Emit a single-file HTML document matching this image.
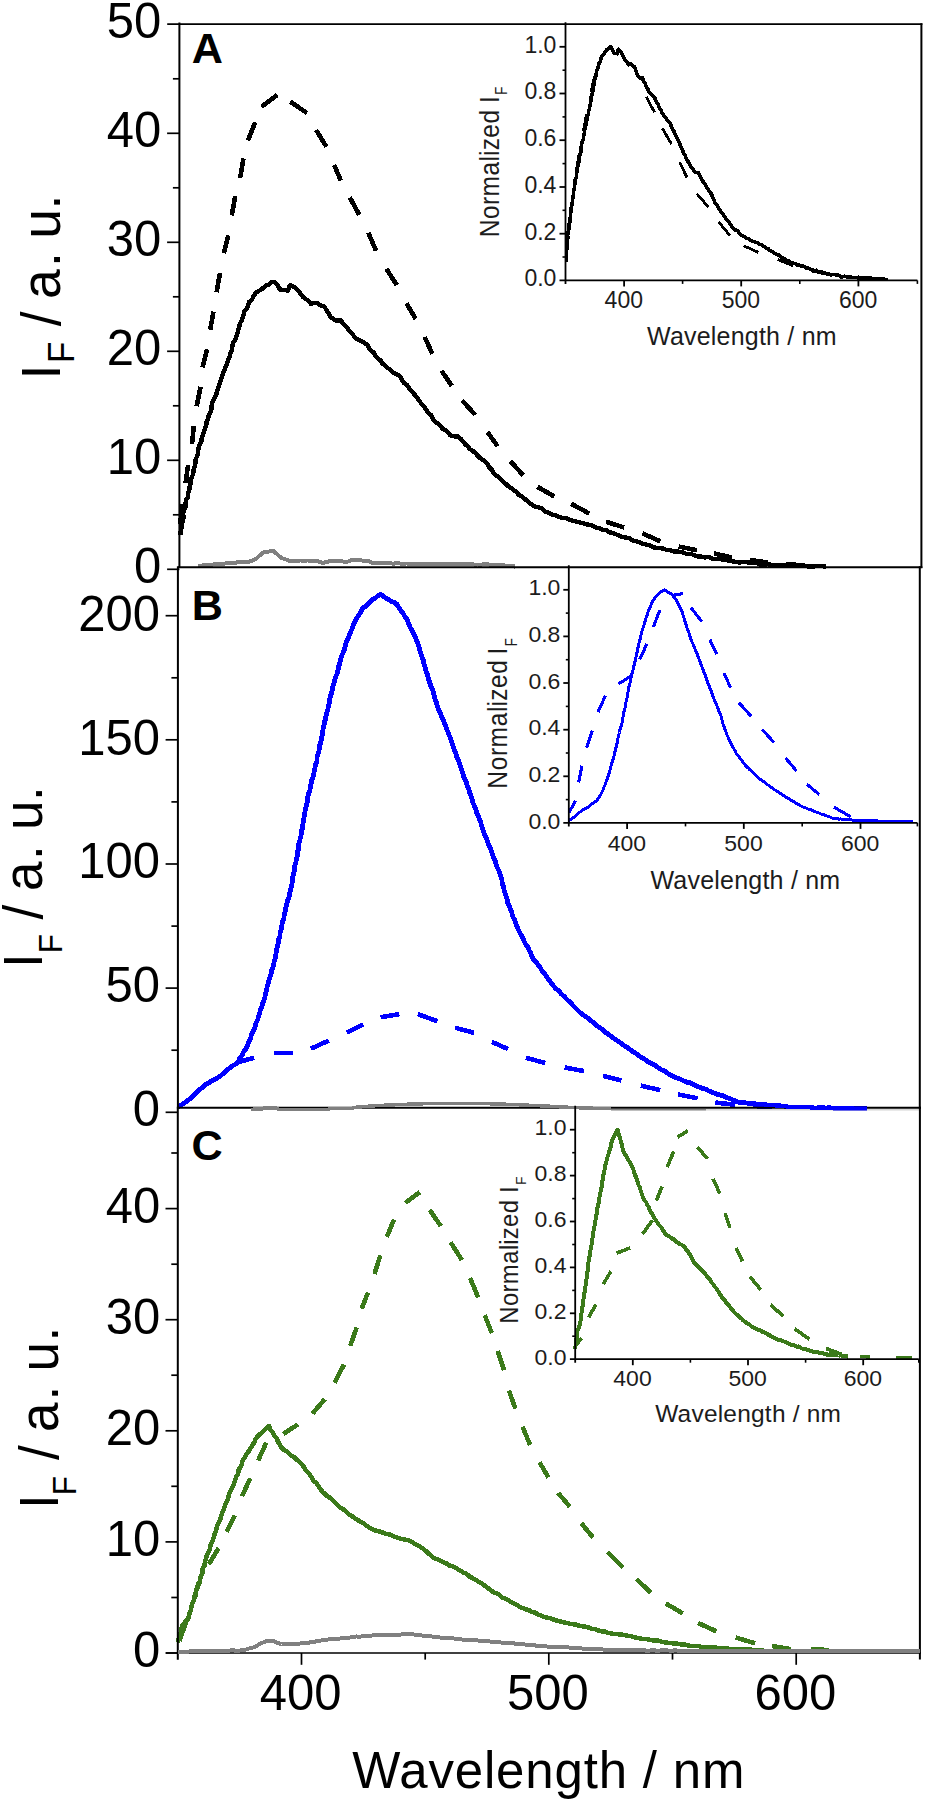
<!DOCTYPE html>
<html lang="en"><head><meta charset="utf-8"><title>Fluorescence spectra</title>
<style>html,body{margin:0;padding:0;background:#fff}svg{display:block}</style></head>
<body>
<svg width="926" height="1804" viewBox="0 0 926 1804">
<rect width="926" height="1804" fill="#fff"/>
<polyline points="198.0,566.2 201.6,565.6 205.3,565.1 208.9,564.5 212.5,564.6 216.0,563.8 219.5,563.9 223.1,563.9 226.6,563.2 230.1,563.2 233.7,563.0 237.2,562.4 240.7,562.4 244.3,562.4 247.8,562.0 251.7,560.8 255.5,559.3 258.4,556.7 261.4,554.0 264.6,551.6 267.6,551.7 270.7,551.3 273.7,551.2 276.3,553.4 278.8,555.9 281.6,558.0 285.4,559.3 289.2,560.7 292.9,560.8 296.6,560.7 300.3,560.5 304.1,560.6 307.8,560.5 311.5,560.6 315.2,560.8 319.1,561.6 322.9,562.9 326.9,562.0 330.7,560.6 334.6,561.0 338.5,561.3 342.4,561.4 346.3,562.0 348.9,561.3 351.4,560.1 355.3,560.4 359.2,560.2 363.1,560.6 367.0,560.8 369.7,561.6 372.3,562.7 375.6,562.6 379.1,563.0 382.5,562.8 386.0,562.9 389.4,563.3 392.8,563.6 396.3,563.4 399.7,563.5 403.1,563.7 406.6,563.5 410.0,563.8 413.5,563.6 417.1,563.9 420.6,564.2 424.2,563.7 427.7,564.0 431.2,564.1 434.8,563.8 438.3,563.9 441.9,564.4 445.4,564.4 448.9,563.9 452.5,564.3 456.0,564.5 459.6,564.1 463.1,564.3 466.6,564.0 470.2,564.3 473.7,564.5 477.3,564.5 480.8,564.6 484.3,564.2 487.9,564.4 491.4,564.8 495.0,564.6 498.5,564.6 501.8,564.9 505.1,565.6 508.4,565.8 511.7,565.8 515.0,566.6" fill="none" stroke="#808080" stroke-width="4" stroke-linejoin="round" shape-rendering="crispEdges"/>
<polyline points="180.4,534.8 180.6,531.3 181.6,527.9 181.9,524.4 182.9,521.0 183.5,517.6 183.2,514.0 183.7,510.5 185.5,507.2 185.4,503.7 186.0,500.2 187.9,497.1 187.9,493.5 189.3,490.2 189.5,486.7 190.6,483.4 190.6,479.8 192.1,476.6 193.3,473.3 193.6,469.8 194.7,466.5 195.4,463.1 195.6,459.5 197.2,456.1 198.0,452.5 198.5,448.8 199.1,445.2 201.3,441.9 201.7,438.2 203.0,434.7 204.0,431.2 205.0,428.0 206.4,424.9 206.7,421.5 208.3,418.4 208.8,415.1 210.5,412.1 211.5,408.9 211.7,405.4 212.7,401.8 214.0,398.4 216.3,395.3 216.8,391.6 218.3,388.2 219.1,384.6 220.6,381.2 221.7,377.7 222.7,374.2 224.2,370.8 225.4,367.4 227.0,364.1 227.8,360.5 229.3,357.2 230.4,353.7 231.7,350.3 232.3,346.6 232.9,343.2 235.0,340.3 236.3,337.1 237.3,333.9 238.0,330.4 239.3,327.3 239.8,323.8 241.5,320.8 242.7,317.6 243.6,314.4 244.6,311.1 247.0,308.5 248.1,305.3 249.2,301.9 252.0,299.6 253.5,296.4 255.3,293.4 257.9,291.3 260.9,289.8 263.5,287.7 265.8,285.4 269.0,284.6 271.0,282.6 273.8,281.9 277.1,284.4 278.8,287.7 281.2,290.3 284.7,290.1 287.9,290.5 288.9,287.4 290.2,284.9 294.0,287.1 296.7,288.9 298.7,291.4 300.6,293.9 302.5,296.5 305.0,298.5 308.5,300.8 311.1,304.1 313.8,303.0 316.6,302.9 320.1,305.1 324.2,306.4 326.4,309.9 328.5,313.4 330.6,316.9 333.2,318.9 335.9,320.7 341.1,320.3 342.7,323.3 345.4,325.6 347.6,328.3 349.4,331.3 352.2,333.5 354.1,336.4 357.1,339.2 360.9,340.7 364.4,342.8 367.2,344.9 369.0,347.9 371.1,350.6 374.0,352.7 375.6,355.9 377.8,358.5 380.7,360.5 382.4,363.6 385.1,365.5 387.5,367.9 390.4,369.6 392.7,372.1 395.4,374.0 398.2,375.0 400.2,376.9 402.0,380.0 403.8,382.8 406.8,384.8 408.7,387.6 410.7,390.3 413.1,392.7 415.3,395.5 417.5,398.2 419.6,401.1 421.5,404.1 424.0,406.6 426.0,409.5 427.9,412.8 431.0,415.0 432.6,418.4 434.9,421.4 437.8,423.5 440.4,425.7 442.4,428.7 445.6,430.5 448.2,432.8 450.5,435.5 454.4,436.4 458.3,436.5 460.9,439.0 463.2,441.4 465.1,444.3 467.9,446.3 469.8,449.1 472.8,450.9 475.4,453.1 477.7,455.7 480.0,458.1 483.0,459.9 485.5,462.2 487.7,464.6 489.4,467.6 492.0,469.8 493.4,472.9 495.7,475.4 498.8,477.1 501.3,479.4 503.4,482.2 506.2,484.2 508.6,486.6 511.7,488.3 514.3,490.5 516.9,492.5 519.0,495.1 522.1,496.6 524.6,498.7 527.1,500.8 529.7,502.9 532.2,504.9 535.3,507.0 539.1,507.5 542.5,508.7 545.2,511.5 548.6,512.9 551.9,514.5 555.5,515.3 558.8,517.0 562.2,517.9 566.0,517.9 569.2,519.7 572.6,520.8 576.2,521.6 579.7,522.4 583.2,523.1 586.6,524.3 589.9,525.0 593.2,525.8 596.1,527.6 599.4,528.1 602.3,529.9 605.9,529.8 608.7,532.1 611.9,532.8 615.1,533.8 618.4,535.4 621.9,536.7 625.5,537.5 629.3,538.0 632.3,540.3 636.0,541.1 639.4,542.1 642.7,543.7 646.2,544.5 649.7,545.4 653.0,547.3 656.6,547.8 660.1,548.1 663.6,548.6 666.9,550.2 670.5,550.3 673.9,551.4 677.4,551.5 680.9,551.9 684.3,553.1 687.6,554.2 691.3,553.9 694.5,555.5 697.9,556.4 701.5,556.7 704.9,557.5 708.6,556.9 711.9,558.4 715.3,559.3 718.9,558.6 722.4,559.5 725.8,560.0 729.2,561.0 732.7,561.4 736.2,561.8 739.6,562.6 743.1,561.8 746.6,562.2 750.0,562.6 753.5,562.9 757.0,563.2 760.3,564.9 763.8,564.8 767.5,564.1 771.2,564.9 774.9,564.8 778.6,565.0 782.3,565.2 786.0,565.8 789.7,565.9 793.3,565.7 797.0,565.5 800.6,565.8 804.2,565.6 807.8,566.4 811.5,566.7 815.1,566.3 818.8,566.0 822.4,566.2 826.0,566.7" fill="none" stroke="#000" stroke-width="4.4" stroke-linejoin="round" shape-rendering="crispEdges"/>
<path d="M180.4,524.4L181.7,503.7 M185.6,483.0L188.1,464.8 M192.0,444.0L193.8,425.9 M196.7,406.3L200.6,386.8 M202.4,367.4L207.1,349.2 M210.2,329.8L213.5,311.6 M216.7,292.2L220.0,272.8 M223.7,253.3L228.3,235.2 M231.8,215.5L235.2,196.1 M240.1,177.9L243.5,158.5 M247.9,140.4L255.2,122.2 M261.6,106.7L277.2,95.0 M290.2,101.5L307.0,113.1 M316.1,130.0L326.4,146.8 M334.2,165.0L340.7,180.5 M349.8,197.4L359.4,215.0 M368.3,232.6L376.1,250.7 M386.4,268.9L396.8,285.0 M406.5,303.3L415.6,318.9 M424.6,337.0L432.4,353.9 M441.5,370.7L451.8,385.8 M462.2,400.5L475.2,414.8 M487.5,432.0L497.6,446.3 M510.2,460.9L523.1,475.2 M537.4,486.8L554.2,496.4 M571.1,503.7L589.2,513.5 M606.1,521.8L624.2,527.5 M642.4,533.5L660.5,541.3 M678.7,546.5L696.8,550.3 M714.0,553.5L732.0,557.5 M750.0,560.0L768.0,562.5 M786.0,564.0L804.0,565.5" fill="none" stroke="#000" stroke-width="4.6" shape-rendering="crispEdges"/>
<path d="M239.7,1061.7L254.2,1057.8 M273.7,1053.0L293.1,1053.0 M310.9,1048.7L328.7,1040.6 M346.6,1032.5L363.4,1024.4 M380.6,1017.3L399.4,1014.1 M417.8,1014.1L437.3,1021.2 M455.1,1027.7L474.0,1032.8 M491.8,1041.9L508.0,1049.0 M525.9,1057.8L545.3,1063.0 M564.7,1067.5L584.2,1071.1 M603.0,1075.9L621.4,1080.5 M640.9,1085.6L660.3,1090.2 M678.1,1094.4L697.6,1098.3 M715.4,1102.5L734.8,1104.7 M753.0,1106.0L772.0,1107.0" fill="none" stroke="#0000ff" stroke-width="4.6" shape-rendering="crispEdges"/>
<polyline points="178.1,1107.1 181.0,1105.2 183.9,1103.2 186.7,1101.2 189.5,1099.1 192.2,1096.7 195.0,1094.4 197.2,1091.4 200.2,1089.2 203.1,1087.1 205.6,1084.4 209.0,1082.9 212.0,1080.6 215.3,1079.1 218.6,1077.2 221.4,1075.1 224.2,1072.9 226.7,1070.3 229.5,1068.2 232.3,1066.0 235.4,1064.2 238.1,1061.8 239.7,1058.3 242.1,1055.3 243.6,1051.8 245.9,1048.8 247.7,1045.4 248.6,1042.1 250.5,1039.1 251.2,1035.7 252.4,1032.5 254.2,1029.4 255.4,1026.2 256.1,1022.8 257.7,1019.7 258.5,1016.4 259.7,1013.2 260.3,1009.8 261.9,1006.8 262.7,1003.5 263.9,1000.3 264.9,997.0 265.5,993.7 266.4,990.4 267.1,987.1 268.0,983.9 268.9,980.6 269.9,977.4 271.1,974.3 271.5,970.9 272.9,967.8 273.6,964.5 274.3,960.9 275.4,957.5 275.9,953.9 276.5,950.3 277.4,946.8 278.3,943.3 278.5,939.7 280.0,936.3 280.0,932.6 281.3,929.2 281.9,925.6 282.3,921.9 283.8,918.5 284.3,914.9 285.3,911.4 285.8,907.7 286.7,904.2 287.6,900.6 289.1,897.2 289.4,893.5 290.6,890.0 291.5,886.6 292.1,883.2 292.3,879.7 293.0,876.3 293.7,872.9 294.6,869.5 294.7,865.9 295.8,862.6 296.5,859.2 297.2,855.8 297.2,852.2 298.6,848.9 298.5,845.4 299.4,842.0 300.2,838.6 301.1,835.1 301.3,831.6 302.5,828.2 302.8,824.7 303.3,821.2 304.0,817.7 304.5,814.2 305.1,810.8 305.8,807.3 306.9,803.9 307.8,800.5 307.8,796.9 308.5,793.5 309.9,790.4 310.3,787.0 311.0,783.8 311.7,780.5 312.8,777.4 313.8,774.2 314.3,770.9 315.0,767.6 315.7,764.4 317.0,760.9 317.0,757.3 318.1,753.8 319.1,750.3 319.3,746.7 320.5,743.2 321.4,739.7 321.9,736.1 322.8,732.6 323.0,729.0 324.0,725.5 324.4,722.2 325.7,719.1 326.0,715.7 326.8,712.5 327.9,709.4 328.5,706.1 329.3,702.9 329.7,699.5 330.4,696.3 331.5,693.1 332.2,689.8 332.9,686.6 333.9,683.3 334.6,680.1 335.7,676.9 337.1,673.8 338.0,670.5 338.5,667.2 339.5,664.0 340.4,660.7 341.2,657.4 342.4,654.2 343.8,651.1 344.9,647.9 345.5,644.5 346.7,641.3 348.2,638.1 349.4,634.9 350.8,631.6 352.2,628.4 353.2,625.0 354.8,621.8 356.2,619.0 357.9,616.4 359.7,613.8 361.3,611.0 362.7,608.2 365.5,606.4 367.7,604.1 370.1,601.9 372.4,599.7 375.2,598.0 377.8,596.0 380.6,594.4 383.3,596.1 385.9,598.2 388.7,599.8 391.3,601.4 394.2,602.5 396.8,604.1 398.6,607.0 400.5,610.0 402.8,612.7 404.4,615.8 406.5,618.7 407.9,621.7 409.1,624.8 410.5,627.9 412.2,630.8 413.6,633.8 415.3,636.7 416.2,640.0 417.7,643.0 418.9,646.3 419.8,649.8 420.8,653.3 421.8,656.7 423.2,660.0 423.8,663.6 424.9,667.0 425.9,670.4 427.1,673.6 428.0,676.9 428.9,680.2 430.0,683.4 431.0,686.7 432.5,689.8 433.5,693.0 434.3,696.3 435.1,699.6 436.5,702.8 437.2,706.1 438.5,709.4 440.2,712.4 441.2,715.8 442.7,719.0 444.1,722.2 445.4,725.4 446.5,728.7 447.9,731.9 449.2,735.2 450.5,738.4 451.5,741.6 452.6,744.8 453.6,748.0 454.7,751.1 456.1,754.2 456.8,757.5 458.6,760.4 459.4,763.7 460.6,766.8 461.6,770.0 462.8,773.1 463.6,776.5 465.1,779.7 466.6,782.8 467.3,786.2 468.9,789.3 469.7,792.7 471.0,795.9 472.0,799.2 472.9,802.5 474.2,805.7 475.6,808.9 476.5,812.2 477.9,815.4 479.2,818.6 480.6,821.7 481.4,825.1 482.6,828.3 483.5,831.7 484.7,834.9 486.2,838.1 487.5,841.2 488.5,844.6 490.2,847.6 491.4,850.9 492.3,854.3 493.5,857.5 495.1,860.6 496.0,864.0 497.1,867.3 498.7,870.4 499.9,873.7 501.0,876.9 501.9,880.1 502.2,883.5 503.6,886.6 504.0,890.0 505.0,893.2 506.1,896.4 507.3,899.5 507.8,902.9 509.2,906.0 510.5,909.3 511.8,912.5 512.5,915.9 514.1,919.0 515.5,922.2 516.6,925.5 517.9,928.6 519.3,931.8 521.1,934.9 522.8,937.9 524.1,941.2 525.7,944.3 527.9,947.1 529.1,950.4 530.9,953.4 532.1,956.8 533.9,959.8 536.3,962.5 538.5,965.4 540.7,968.3 542.3,971.6 544.9,974.2 546.9,977.2 549.1,980.1 551.2,983.1 553.4,985.9 555.9,988.6 558.8,990.9 561.0,993.8 563.9,996.1 566.3,998.9 569.0,1001.3 571.6,1003.9 574.1,1006.6 576.7,1009.2 579.3,1011.8 581.8,1014.0 584.6,1016.0 587.5,1017.7 590.0,1019.9 592.6,1022.0 595.0,1024.4 597.7,1026.4 600.5,1028.3 603.4,1030.0 605.7,1032.5 608.5,1034.4 611.4,1036.5 614.3,1038.7 617.3,1040.7 620.3,1042.6 623.0,1045.0 626.2,1046.7 629.2,1048.8 631.9,1051.1 635.1,1052.8 638.0,1054.9 640.8,1057.2 644.0,1058.6 646.7,1060.9 649.7,1062.6 652.7,1064.1 655.7,1065.8 658.5,1067.9 661.3,1069.8 664.6,1071.0 667.4,1073.0 670.3,1074.9 673.3,1076.6 676.6,1077.8 679.9,1078.9 683.0,1080.5 686.2,1082.0 689.6,1082.7 692.8,1084.1 695.9,1085.9 699.1,1087.1 702.4,1088.3 705.8,1089.3 709.1,1091.0 712.4,1092.5 715.8,1093.8 719.4,1094.9 723.0,1095.7 726.2,1097.6 729.8,1098.4 733.1,1100.0 736.4,1101.5 740.0,1102.6 743.5,1102.5 746.9,1103.0 750.3,1103.8 753.8,1103.5 757.2,1104.2 760.6,1104.3 764.1,1104.4 767.5,1105.1 771.0,1104.9 774.4,1105.3 777.8,1105.8 781.3,1105.9 784.7,1106.2 788.1,1106.9 791.5,1107.4 795.0,1107.7 798.4,1107.3 801.9,1107.5 805.3,1107.5 808.7,1107.8 812.1,1107.7 815.6,1108.1 819.0,1107.7 822.4,1107.5 825.9,1108.1 829.3,1107.7 832.7,1108.1 836.1,1108.1 839.6,1108.4 843.0,1108.2 846.4,1108.3 849.9,1108.1 853.3,1108.4 856.7,1108.2 860.1,1108.6 863.6,1108.5 867.0,1108.4" fill="none" stroke="#0000ff" stroke-width="4.8" stroke-linejoin="round" shape-rendering="crispEdges"/>
<path d="M179.5,1641.0L186.0,1622.0 M193.5,1600.0L198.5,1583.0 M208.9,1564.2L218.6,1548.0 M226.7,1531.8L234.8,1515.6 M241.9,1496.2L250.3,1478.4 M258.1,1460.6L266.2,1442.8 M283.4,1434.0L298.0,1424.3 M312.5,1413.6L324.9,1399.0 M334.6,1382.8L344.0,1364.5 M350.2,1346.0L356.7,1327.5 M361.6,1308.7L368.0,1292.5 M374.5,1274.1L380.3,1255.3 M386.8,1236.8L394.0,1219.7 M405.3,1202.8L419.9,1192.1 M429.6,1209.9L440.9,1226.1 M450.6,1242.3L462.0,1260.2 M470.1,1278.0L478.2,1297.4 M484.7,1315.2L491.8,1333.0 M497.6,1350.9L504.1,1370.3 M508.9,1390.5L515.4,1408.7 M522.6,1426.8L530.1,1445.0 M539.5,1462.3L548.5,1477.4 M558.1,1492.9L569.8,1506.7 M581.4,1523.3L593.1,1537.6 M607.4,1551.8L622.9,1567.4 M636.6,1579.2L651.0,1592.8 M665.6,1603.4L682.7,1613.3 M698.0,1622.9L716.5,1631.4 M735.6,1637.5L755.0,1643.3 M772.1,1646.1L790.9,1649.1 M811.3,1648.8L828.4,1650.2" fill="none" stroke="#3b7a1a" stroke-width="4.6" shape-rendering="crispEdges"/>
<polyline points="177.8,1642.6 178.7,1638.9 179.5,1635.2 181.1,1631.7 181.5,1627.9 183.0,1624.4 185.4,1621.7 187.9,1619.0 189.1,1616.0 189.6,1612.6 191.0,1609.5 191.5,1606.1 192.5,1602.9 193.9,1599.8 195.3,1596.6 195.7,1593.2 196.6,1589.8 198.1,1586.4 199.4,1583.1 200.0,1579.5 200.8,1576.0 202.5,1572.7 202.5,1569.0 204.4,1565.8 204.9,1562.2 205.8,1558.7 206.9,1555.3 208.3,1552.0 210.0,1548.8 210.5,1545.2 212.1,1542.0 213.3,1538.7 214.2,1535.2 215.6,1531.9 216.5,1528.4 217.4,1525.2 218.7,1522.1 220.4,1519.1 221.3,1515.9 222.3,1512.7 223.7,1509.6 224.8,1506.4 225.8,1503.2 227.4,1500.3 228.4,1497.0 229.4,1493.6 231.0,1490.4 232.3,1487.1 234.0,1483.9 235.2,1480.5 236.0,1477.1 238.1,1474.0 238.5,1470.4 240.2,1467.2 241.8,1464.0 242.7,1460.5 244.7,1457.6 246.1,1454.3 248.5,1451.6 250.4,1448.6 252.1,1445.5 254.2,1442.6 255.5,1439.2 257.6,1436.4 260.4,1433.8 263.2,1431.2 265.9,1428.5 268.9,1426.0 270.2,1429.3 272.5,1432.1 274.2,1435.3 276.6,1438.1 277.9,1441.5 279.8,1444.6 281.6,1447.7 284.1,1450.0 287.0,1451.6 289.5,1453.8 291.9,1456.1 294.8,1457.6 297.1,1460.1 299.7,1462.1 302.0,1464.6 304.1,1467.2 305.6,1470.3 308.2,1472.5 310.1,1475.3 312.1,1478.0 313.7,1481.0 316.5,1483.1 318.2,1486.0 320.2,1488.7 322.1,1491.4 324.7,1493.8 327.2,1496.1 330.2,1497.9 332.7,1500.3 335.4,1502.5 337.6,1505.2 340.1,1507.6 343.3,1509.2 345.8,1511.5 348.3,1513.9 351.2,1515.6 353.9,1517.6 356.7,1519.6 359.7,1521.1 362.7,1522.7 365.3,1524.9 368.1,1526.7 370.9,1528.6 374.0,1530.1 377.3,1530.9 380.6,1531.8 383.8,1533.0 387.0,1534.1 390.4,1534.6 393.4,1536.3 396.7,1537.4 399.9,1538.4 403.1,1539.3 406.5,1539.8 409.7,1540.8 412.6,1542.2 415.1,1544.3 418.1,1545.5 420.8,1547.1 423.4,1549.1 426.1,1551.2 428.6,1553.6 431.4,1555.7 433.9,1558.1 436.9,1559.2 439.9,1560.5 442.8,1562.1 446.0,1563.0 448.6,1565.2 451.8,1566.2 455.0,1567.4 457.9,1569.2 460.8,1571.0 463.8,1572.7 466.9,1574.1 469.4,1576.5 472.5,1578.0 475.6,1579.8 478.5,1581.8 481.7,1583.5 484.7,1585.6 487.5,1587.8 490.5,1589.8 493.2,1592.1 496.4,1593.3 499.5,1594.9 501.9,1597.4 505.1,1598.7 508.3,1600.0 511.0,1602.1 514.1,1603.5 517.0,1605.1 519.8,1606.9 522.9,1608.2 526.0,1609.4 529.3,1610.4 532.2,1611.9 535.4,1612.8 538.3,1614.6 541.5,1615.6 544.5,1617.0 547.7,1617.8 551.2,1618.5 554.6,1620.0 558.0,1621.0 561.5,1621.7 565.0,1622.6 568.5,1623.3 571.8,1624.2 575.2,1624.4 578.5,1625.6 581.9,1626.2 585.3,1626.7 588.6,1627.5 591.8,1628.7 595.1,1629.2 598.2,1630.4 601.4,1631.4 604.8,1631.5 607.9,1632.7 611.1,1633.5 614.4,1634.1 617.7,1634.2 621.5,1634.6 625.2,1635.3 628.9,1635.9 632.6,1636.6 636.3,1637.7 640.0,1638.4 643.4,1639.1 647.0,1639.2 650.4,1639.9 653.9,1640.6 657.5,1640.4 660.9,1641.5 664.3,1642.3 667.8,1642.7 671.3,1643.2 674.8,1643.4 678.3,1643.8 681.7,1644.7 685.1,1644.6 688.5,1645.5 691.9,1646.0 695.4,1645.8 698.8,1646.2 702.1,1647.1 705.6,1647.3 709.0,1647.1 712.4,1647.6 715.8,1647.6 719.2,1648.6 722.6,1648.6 726.1,1648.1 729.4,1649.0 732.8,1649.3 736.3,1649.2 739.7,1649.0 743.1,1649.4 746.5,1649.3 749.9,1649.1 753.3,1650.3 756.8,1650.1 760.2,1650.1 763.6,1650.4" fill="none" stroke="#3b7a1a" stroke-width="4.5" stroke-linejoin="round" shape-rendering="crispEdges"/>
<path d="M566.3,262.0L567.6,243.0 M570.5,214.0L572.5,197.0 M576.0,172.0L579.0,155.0 M583.5,131.0L586.5,114.0 M591.0,92.0L594.5,76.0 M646.3,96.9L654.6,112.4 M662.4,128.5L671.5,144.0 M679.8,162.2L687.0,177.7 M696.9,193.8L708.3,207.0 M718.6,221.8L729.8,235.5 M743.5,245.7L758.3,252.4 M777.7,259.4L793.3,265.9 M812.0,271.0L828.0,274.5 M846.0,277.0L862.0,278.6" fill="none" stroke="#000" stroke-width="2.8" shape-rendering="crispEdges"/>
<polyline points="566.4,252.4 566.5,249.5 567.0,246.7 567.1,243.9 567.5,241.1 567.8,238.3 567.7,235.4 567.9,232.6 568.8,229.9 568.8,227.0 569.0,224.2 569.9,221.7 569.9,218.8 570.6,216.1 570.7,213.3 571.2,210.6 571.2,207.7 571.9,205.0 572.5,202.4 572.6,199.5 573.1,196.8 573.5,194.0 573.6,191.2 574.4,188.4 574.7,185.5 575.0,182.5 575.2,179.5 576.3,176.9 576.5,173.8 577.1,171.0 577.5,168.1 578.0,165.5 578.7,163.0 578.8,160.2 579.6,157.8 579.8,155.0 580.7,152.6 581.1,150.0 581.2,147.2 581.7,144.3 582.3,141.5 583.4,139.0 583.6,135.9 584.3,133.2 584.7,130.2 585.4,127.5 585.9,124.6 586.4,121.8 587.1,119.1 587.7,116.2 588.4,113.6 588.8,110.7 589.6,108.0 590.1,105.1 590.7,102.4 591.0,99.4 591.2,96.6 592.2,94.2 592.8,91.7 593.3,89.0 593.6,86.2 594.3,83.7 594.5,80.8 595.3,78.4 595.9,75.8 596.3,73.2 596.8,70.5 597.9,68.4 598.5,65.8 599.0,63.1 600.3,61.2 601.0,58.5 601.8,56.1 603.1,54.4 604.5,53.2 605.7,51.5 606.8,49.6 608.4,48.9 609.3,47.3 610.6,46.8 612.2,48.8 613.0,51.4 614.1,53.6 615.8,53.4 617.3,53.7 617.8,51.3 618.4,49.2 620.2,51.0 621.4,52.4 622.4,54.5 623.3,56.5 624.2,58.6 625.4,60.3 627.0,62.1 628.3,64.8 629.6,63.9 630.9,63.9 632.5,65.6 634.5,66.7 635.5,69.5 636.5,72.4 637.5,75.2 638.8,76.8 640.0,78.3 642.5,78.0 643.3,80.4 644.5,82.3 645.6,84.5 646.4,86.9 647.7,88.7 648.7,91.1 650.1,93.4 651.9,94.6 653.5,96.3 654.9,98.0 655.7,100.4 656.7,102.6 658.1,104.3 658.8,106.9 659.9,109.0 661.3,110.6 662.1,113.2 663.3,114.8 664.5,116.7 665.9,118.0 666.9,120.1 668.2,121.7 669.5,122.4 670.5,124.0 671.3,126.5 672.2,128.8 673.6,130.4 674.5,132.7 675.5,134.9 676.6,136.8 677.6,139.1 678.7,141.3 679.7,143.7 680.6,146.1 681.7,148.2 682.7,150.5 683.6,153.2 685.1,155.0 685.8,157.8 686.9,160.2 688.3,161.8 689.5,163.7 690.5,166.1 692.0,167.5 693.2,169.4 694.3,171.6 696.1,172.4 698.0,172.4 699.2,174.5 700.3,176.4 701.2,178.8 702.5,180.4 703.5,182.7 704.9,184.2 706.1,185.9 707.2,188.0 708.3,190.0 709.7,191.4 710.9,193.3 711.9,195.3 712.7,197.7 713.9,199.5 714.6,202.1 715.7,204.0 717.2,205.4 718.4,207.3 719.4,209.6 720.7,211.2 721.8,213.2 723.3,214.6 724.5,216.3 725.7,218.0 726.8,220.1 728.2,221.3 729.4,223.0 730.6,224.7 731.8,226.4 733.0,228.1 734.5,229.8 736.3,230.1 737.9,231.2 739.2,233.4 740.8,234.5 742.3,235.8 744.1,236.5 745.6,237.9 747.2,238.6 749.0,238.6 750.5,240.1 752.2,241.0 753.8,241.6 755.5,242.3 757.2,242.8 758.8,243.8 760.3,244.4 761.9,245.0 763.3,246.5 764.8,246.9 766.2,248.4 767.9,248.3 769.2,250.1 770.8,250.7 772.3,251.5 773.9,252.8 775.5,253.9 777.2,254.6 779.0,255.0 780.4,256.9 782.2,257.5 783.8,258.3 785.4,259.6 787.0,260.3 788.7,261.0 790.2,262.5 791.9,262.9 793.6,263.2 795.2,263.6 796.8,264.9 798.5,264.9 800.1,265.8 801.8,265.9 803.5,266.2 805.0,267.2 806.6,268.1 808.3,267.9 809.9,269.2 811.5,269.9 813.2,270.2 814.8,270.8 816.5,270.3 818.1,271.5 819.7,272.2 821.5,271.7 823.1,272.4 824.7,272.9 826.3,273.6 828.0,274.0 829.6,274.3 831.2,274.9 832.9,274.3 834.5,274.6 836.2,275.0 837.8,275.2 839.5,275.4 841.0,276.8 842.7,276.7 844.5,276.1 846.2,276.8 848.0,276.7 849.7,276.9 851.5,277.1 853.2,277.6 855.0,277.6 856.7,277.5 858.4,277.3 860.1,277.6 861.9,277.4 863.6,278.0 865.3,278.3 867.0,278.0 868.7,277.7 870.5,277.9 872.2,278.3 888.0,279.6" fill="none" stroke="#000" stroke-width="3.6" stroke-linejoin="round" shape-rendering="crispEdges"/>
<path d="M569.1,812.4L575.6,800.7 M578.7,782.5L582.0,765.7 M586.7,747.6L592.4,730.7 M598.1,712.0L605.4,695.7 M618.3,684.0L630.5,676.3 M639.8,659.4L646.8,643.9 M653.3,627.0L659.8,610.2 M674.0,594.6L683.1,593.8 M690.9,607.6L702.0,621.8 M709.8,639.5L716.8,654.2 M724.1,673.2L730.6,687.9 M738.9,702.7L751.3,716.4 M762.2,729.4L773.8,742.4 M785.5,757.9L796.4,770.9 M806.8,784.2L819.3,794.6 M833.9,807.1L850.5,816.7 M869.3,820.9L883.9,821.7" fill="none" stroke="#0000ff" stroke-width="3.1" shape-rendering="crispEdges"/>
<polyline points="568.9,820.6 570.3,819.7 571.6,818.8 573.0,817.9 574.3,817.0 575.6,815.9 576.9,814.8 577.9,813.5 579.3,812.5 580.7,811.6 581.9,810.4 583.5,809.7 584.9,808.6 586.5,807.9 588.0,807.1 589.3,806.2 590.6,805.2 591.8,804.0 593.2,803.1 594.5,802.1 596.0,801.2 597.2,800.2 598.0,798.6 599.1,797.3 599.8,795.7 600.9,794.3 601.7,792.8 602.2,791.3 603.1,790.0 603.4,788.4 604.0,787.0 604.8,785.6 605.4,784.1 605.7,782.6 606.4,781.2 606.9,779.7 607.4,778.3 607.7,776.8 608.4,775.4 608.8,773.9 609.4,772.5 609.8,771.0 610.1,769.5 610.6,768.1 610.9,766.6 611.3,765.1 611.7,763.6 612.2,762.2 612.8,760.8 613.0,759.3 613.6,757.9 614.0,756.4 614.3,754.8 614.8,753.2 615.0,751.6 615.3,750.0 615.7,748.4 616.2,746.8 616.3,745.2 617.0,743.7 617.0,742.0 617.6,740.5 617.9,738.9 618.1,737.2 618.8,735.7 619.0,734.1 619.5,732.5 619.7,730.8 620.1,729.2 620.6,727.6 621.3,726.1 621.4,724.4 622.0,722.9 622.4,721.3 622.7,719.8 622.8,718.2 623.1,716.7 623.5,715.1 623.9,713.6 623.9,712.0 624.5,710.5 624.8,709.0 625.1,707.4 625.1,705.8 625.7,704.4 625.7,702.8 626.2,701.2 626.5,699.7 627.0,698.2 627.1,696.6 627.6,695.0 627.7,693.5 628.0,691.9 628.3,690.3 628.5,688.8 628.8,687.2 629.2,685.6 629.7,684.1 630.1,682.6 630.1,681.0 630.4,679.4 631.1,678.0 631.3,676.5 631.6,675.1 631.9,673.6 632.4,672.2 632.9,670.7 633.2,669.2 633.5,667.8 633.8,666.3 634.4,664.8 634.4,663.1 635.0,661.6 635.4,660.0 635.5,658.3 636.1,656.8 636.5,655.2 636.7,653.6 637.2,652.0 637.3,650.4 637.7,648.8 638.0,647.3 638.5,645.9 638.7,644.4 639.1,643.0 639.6,641.6 639.9,640.1 640.3,638.6 640.4,637.1 640.8,635.7 641.3,634.2 641.6,632.8 642.0,631.3 642.4,629.8 642.8,628.4 643.3,626.9 643.9,625.5 644.3,624.1 644.6,622.6 645.1,621.1 645.5,619.7 645.9,618.2 646.4,616.7 647.1,615.3 647.6,613.9 647.9,612.4 648.5,610.9 649.1,609.5 649.8,608.0 650.4,606.6 651.0,605.1 651.5,603.6 652.3,602.2 652.9,600.9 653.8,599.7 654.6,598.5 655.4,597.3 656.0,596.0 657.3,595.2 658.4,594.2 659.5,593.2 660.6,592.2 661.9,591.4 663.1,590.5 664.5,589.8 665.7,590.6 666.9,591.5 668.3,592.3 669.5,593.0 670.9,593.5 672.1,594.2 672.9,595.5 673.8,596.8 674.9,598.1 675.7,599.5 676.7,600.7 677.3,602.1 677.9,603.5 678.6,604.9 679.4,606.2 680.0,607.6 680.8,608.9 681.3,610.3 682.0,611.7 682.5,613.2 682.9,614.8 683.4,616.3 683.9,617.9 684.6,619.3 684.8,621.0 685.4,622.5 685.8,624.0 686.4,625.5 686.8,627.0 687.2,628.4 687.8,629.9 688.2,631.4 689.0,632.7 689.4,634.2 689.8,635.7 690.2,637.2 690.8,638.6 691.2,640.1 691.8,641.6 692.6,642.9 693.1,644.5 693.8,645.9 694.4,647.3 695.0,648.8 695.6,650.3 696.2,651.7 696.8,653.2 697.4,654.6 697.9,656.1 698.5,657.5 698.9,658.9 699.4,660.4 700.1,661.7 700.4,663.2 701.2,664.5 701.6,666.0 702.2,667.4 702.7,668.9 703.3,670.3 703.6,671.8 704.3,673.2 705.0,674.6 705.4,676.1 706.1,677.5 706.5,679.1 707.1,680.5 707.6,682.0 708.0,683.5 708.6,684.9 709.3,686.4 709.7,687.9 710.3,689.3 711.0,690.7 711.6,692.1 712.0,693.6 712.6,695.1 713.0,696.6 713.6,698.1 714.3,699.5 714.9,700.9 715.3,702.4 716.2,703.8 716.7,705.2 717.2,706.8 717.7,708.2 718.5,709.6 718.9,711.2 719.4,712.6 720.2,714.0 720.8,715.5 721.3,716.9 721.7,718.4 721.9,719.9 722.5,721.3 722.7,722.8 723.1,724.3 723.7,725.7 724.2,727.1 724.5,728.6 725.2,730.1 725.8,731.5 726.4,733.0 726.7,734.5 727.5,735.9 728.1,737.3 728.6,738.8 729.3,740.2 729.9,741.7 730.7,743.1 731.6,744.4 732.2,745.9 732.9,747.3 733.9,748.6 734.5,750.0 735.4,751.4 735.9,752.9 736.8,754.2 737.9,755.5 738.9,756.8 740.0,758.1 740.8,759.6 742.0,760.7 742.9,762.1 744.0,763.4 744.9,764.7 746.0,766.0 747.2,767.2 748.5,768.2 749.6,769.6 750.9,770.6 752.1,771.9 753.4,773.0 754.6,774.1 755.8,775.3 757.0,776.5 758.2,777.7 759.4,778.7 760.7,779.5 762.1,780.3 763.3,781.3 764.5,782.3 765.6,783.3 766.9,784.3 768.2,785.1 769.6,785.9 770.7,787.0 772.0,787.8 773.4,788.8 774.7,789.8 776.1,790.7 777.6,791.6 778.9,792.6 780.4,793.4 781.8,794.3 783.0,795.4 784.6,796.1 785.9,797.1 787.3,798.1 788.8,798.7 790.0,799.8 791.4,800.5 792.9,801.2 794.3,802.0 795.6,802.9 796.9,803.8 798.5,804.3 799.8,805.2 801.2,806.1 802.6,806.8 804.1,807.4 805.7,807.9 807.2,808.6 808.6,809.3 810.3,809.6 811.8,810.2 813.2,811.0 814.8,811.6 816.3,812.1 817.9,812.6 819.5,813.3 821.0,814.0 822.7,814.6 824.3,815.0 826.0,815.4 827.5,816.3 829.2,816.6 830.8,817.4 832.4,818.1 834.0,818.5 835.7,818.5 837.3,818.7 838.9,819.1 840.6,818.9 842.2,819.2 843.8,819.3 845.4,819.4 847.0,819.7 848.7,819.6 850.3,819.8 851.9,820.0 853.5,820.0 855.2,820.2 856.8,820.5 858.4,820.7 860.0,820.8 861.6,820.6 863.2,820.8 864.9,820.7 866.5,820.9 868.1,820.8 869.7,821.0 871.3,820.8 873.0,820.8 874.6,821.0 876.2,820.8 877.8,821.0 879.4,821.0 881.0,821.2 882.7,821.1 884.3,821.1 885.9,821.0 887.5,821.1 889.1,821.0 890.7,821.2 892.4,821.2 894.0,821.1 913.0,821.9" fill="none" stroke="#0000ff" stroke-width="3.0" stroke-linejoin="round" shape-rendering="crispEdges"/>
<path d="M576.5,1344.6L581.7,1338.1 M588.7,1317.4L595.9,1304.4 M603.2,1284.2L611.0,1271.2 M616.7,1253.1L630.1,1247.9 M642.6,1233.9L652.4,1220.2 M656.3,1200.7L662.0,1186.5 M667.2,1167.0L673.7,1151.5 M677.6,1137.2L687.9,1130.7 M697.5,1147.1L707.4,1158.7 M713.1,1178.7L719.8,1193.5 M725.0,1213.2L729.9,1227.9 M735.9,1247.9L742.4,1261.3 M749.8,1276.5L760.8,1289.9 M770.5,1304.6L783.1,1316.1 M794.6,1328.7L809.5,1339.4 M826.0,1348.5L841.5,1354.2 M859.7,1356.3L870.0,1357.0 M896.0,1357.6L911.5,1357.6" fill="none" stroke="#3b7a1a" stroke-width="3.6" shape-rendering="crispEdges"/>
<polyline points="575.2,1348.7 575.6,1344.9 576.0,1341.2 576.7,1337.7 576.9,1333.8 577.6,1330.3 578.8,1327.5 579.9,1324.8 580.5,1321.8 580.7,1318.3 581.3,1315.2 581.6,1311.8 582.1,1308.5 582.7,1305.4 583.3,1302.2 583.5,1298.8 584.0,1295.3 584.6,1291.9 585.3,1288.5 585.6,1284.9 585.9,1281.3 586.7,1278.0 586.7,1274.2 587.6,1271.0 587.8,1267.4 588.2,1263.8 588.8,1260.4 589.4,1257.1 590.2,1253.9 590.4,1250.2 591.2,1247.0 591.7,1243.6 592.2,1240.1 592.8,1236.7 593.2,1233.2 593.6,1230.0 594.3,1226.8 595.0,1223.8 595.4,1220.5 595.9,1217.3 596.6,1214.2 597.1,1211.0 597.5,1207.7 598.3,1204.8 598.8,1201.5 599.2,1198.0 600.0,1194.8 600.6,1191.4 601.4,1188.2 601.9,1184.8 602.3,1181.3 603.3,1178.2 603.5,1174.5 604.2,1171.3 605.0,1168.1 605.4,1164.6 606.4,1161.6 607.0,1158.2 608.1,1155.5 609.0,1152.5 609.8,1149.3 610.8,1146.4 611.4,1143.0 612.4,1140.1 613.7,1137.5 615.0,1134.9 616.2,1132.2 617.6,1129.7 618.2,1132.9 619.3,1135.8 620.1,1139.1 621.2,1141.8 621.8,1145.3 622.7,1148.5 623.5,1151.6 624.7,1153.9 626.1,1155.5 627.2,1157.7 628.3,1160.1 629.7,1161.6 630.8,1164.1 632.0,1166.1 633.0,1168.7 634.0,1171.3 634.7,1174.5 635.9,1176.7 636.8,1179.5 637.7,1182.2 638.5,1185.2 639.8,1187.4 640.6,1190.3 641.5,1193.1 642.4,1195.8 643.6,1198.3 644.8,1200.6 646.2,1202.4 647.3,1204.8 648.6,1207.1 649.6,1209.8 650.8,1212.1 652.3,1213.8 653.5,1216.1 654.6,1218.5 656.0,1220.2 657.2,1222.3 658.5,1224.3 659.9,1225.8 661.3,1227.4 662.5,1229.6 663.8,1231.4 665.1,1233.4 666.6,1235.0 668.1,1235.8 669.6,1236.7 671.1,1237.9 672.6,1239.0 674.2,1239.4 675.6,1241.2 677.1,1242.3 678.6,1243.3 680.1,1244.2 681.7,1244.8 683.2,1245.8 684.6,1247.1 685.7,1249.3 687.1,1250.5 688.4,1252.2 689.6,1254.1 690.9,1256.3 692.0,1258.7 693.3,1260.8 694.5,1263.2 695.8,1264.4 697.3,1265.7 698.6,1267.2 700.1,1268.2 701.3,1270.4 702.8,1271.4 704.3,1272.7 705.6,1274.5 707.0,1276.3 708.4,1278.0 709.8,1279.4 711.0,1281.8 712.4,1283.4 713.9,1285.2 715.2,1287.2 716.7,1288.9 718.1,1291.0 719.4,1293.3 720.8,1295.3 722.1,1297.7 723.6,1298.9 725.0,1300.4 726.1,1303.0 727.6,1304.3 729.1,1305.6 730.4,1307.7 731.8,1309.1 733.2,1310.8 734.5,1312.6 735.9,1313.9 737.4,1315.1 738.9,1316.1 740.3,1317.7 741.8,1318.6 743.1,1320.4 744.6,1321.4 746.0,1322.8 747.5,1323.6 749.1,1324.3 750.7,1325.8 752.2,1326.9 753.9,1327.6 755.5,1328.4 757.1,1329.1 758.7,1330.0 760.3,1330.3 761.8,1331.5 763.4,1332.1 765.0,1332.6 766.5,1333.4 768.0,1334.6 769.5,1335.2 771.0,1336.3 772.5,1337.3 774.0,1337.5 775.5,1338.7 777.0,1339.4 778.5,1340.1 780.1,1340.2 781.8,1340.6 783.5,1341.3 785.3,1341.9 787.0,1342.6 788.7,1343.7 790.4,1344.5 792.0,1345.1 793.7,1345.3 795.3,1346.0 796.9,1346.7 798.6,1346.4 800.2,1347.6 801.8,1348.4 803.4,1348.8 805.0,1349.3 806.7,1349.5 808.3,1349.9 809.9,1350.8 811.5,1350.7 813.0,1351.6 814.6,1352.2 816.2,1351.9 817.8,1352.3 819.4,1353.3 821.0,1353.4 822.6,1353.2 824.2,1353.7 825.8,1353.7 827.3,1354.7 828.9,1354.8 830.5,1354.2 832.1,1355.2 833.7,1355.5 835.3,1355.3 836.9,1355.2 838.5,1355.5 840.1,1355.5 841.6,1355.3 843.2,1356.5 844.8,1356.3 846.4,1356.3 848.0,1356.6" fill="none" stroke="#3b7a1a" stroke-width="4.0" stroke-linejoin="round" shape-rendering="crispEdges"/>
<line x1="611.0" y1="1109.8" x2="706.0" y2="1109.8" stroke="#808080" stroke-width="1.6"/>
<line x1="706.0" y1="1109.8" x2="919.8" y2="1109.8" stroke="#d4d4d4" stroke-width="1.4"/>
<line x1="179.4" y1="22.4" x2="179.4" y2="568.0" stroke="#000" stroke-width="2"/>
<line x1="921.4" y1="23.2" x2="921.4" y2="568.0" stroke="#000" stroke-width="2"/>
<line x1="167.2" y1="24.2" x2="922.4" y2="24.2" stroke="#000" stroke-width="1.7"/>
<line x1="178.0" y1="567.3" x2="922.4" y2="567.3" stroke="#000" stroke-width="2"/>
<line x1="177.9" y1="566.3" x2="177.9" y2="1108.8" stroke="#000" stroke-width="2"/>
<line x1="919.8" y1="566.3" x2="919.8" y2="1108.8" stroke="#000" stroke-width="2"/>
<line x1="177.0" y1="1107.8" x2="920.9" y2="1107.8" stroke="#000" stroke-width="2"/>
<polyline points="251.0,1109.3 262.0,1109.0 263.0,1108.2 277.0,1108.2 278.0,1109.5 328.0,1109.5 330.0,1108.6 352.0,1108.4 354.0,1107.4 377.0,1105.6 400.0,1104.5 420.0,1103.8 450.0,1103.3 470.0,1103.3 500.0,1104.0 520.0,1104.8 545.0,1106.0 570.0,1107.4 590.0,1108.2 611.0,1108.6" fill="none" stroke="#808080" stroke-width="3.5" stroke-linejoin="round" shape-rendering="crispEdges"/>
<polyline points="740.0,1102.5 795.0,1107.5 867.0,1108.5" fill="none" stroke="#0000ff" stroke-width="3.6" stroke-linejoin="round" shape-rendering="crispEdges"/>
<line x1="177.8" y1="1106.8" x2="177.8" y2="1659.8" stroke="#000" stroke-width="2"/>
<line x1="919.9" y1="1106.8" x2="919.9" y2="1659.5" stroke="#000" stroke-width="2"/>
<line x1="166.0" y1="1653.0" x2="920.9" y2="1653.0" stroke="#000" stroke-width="1.7"/>
<polyline points="177.8,1651.6 181.2,1651.5 184.6,1651.5 188.0,1651.6 191.4,1651.3 194.9,1651.3 198.3,1651.2 201.7,1650.9 205.1,1651.1 208.5,1651.1 211.9,1651.1 215.3,1650.6 218.7,1650.7 222.1,1650.5 225.6,1650.8 229.0,1650.7 232.4,1650.2 235.8,1650.7 239.2,1650.6 242.6,1650.3 246.1,1649.5 249.4,1648.4 252.9,1647.6 256.2,1646.1 259.3,1644.3 262.6,1642.7 265.9,1641.2 269.8,1641.0 273.7,1641.3 277.6,1642.8 281.5,1644.5 284.7,1644.4 287.9,1644.5 291.2,1644.4 294.4,1644.4 297.9,1643.9 301.3,1643.3 304.8,1643.2 308.3,1642.7 311.7,1642.2 315.2,1641.6 318.6,1640.9 322.0,1640.3 325.5,1639.9 328.9,1639.4 332.4,1639.4 335.9,1638.8 339.3,1638.7 342.8,1638.0 346.3,1638.0 349.7,1637.6 353.1,1636.7 356.6,1636.5 360.2,1636.6 363.7,1636.1 367.3,1636.2 370.8,1635.6 374.4,1635.2 378.0,1635.3 381.5,1635.2 385.1,1634.7 388.7,1634.5 392.2,1634.6 395.8,1634.9 399.3,1634.7 402.9,1634.2 406.4,1634.2 410.0,1634.2 413.6,1634.4 417.2,1635.3 420.9,1635.3 424.4,1635.9 428.1,1636.2 431.7,1636.4 435.3,1637.2 438.9,1637.3 442.4,1637.8 446.0,1637.7 449.5,1638.2 453.1,1638.4 456.6,1638.7 460.1,1639.4 463.6,1639.6 467.2,1639.5 470.7,1640.2 474.3,1640.0 477.8,1640.5 481.3,1641.0 484.8,1641.2 488.4,1641.2 491.9,1642.0 495.5,1641.9 499.0,1642.2 502.5,1642.8 506.0,1642.9 509.6,1643.2 513.1,1643.3 516.6,1643.8 520.1,1644.2 523.7,1644.3 527.2,1644.8 530.8,1645.0 534.3,1645.3 537.8,1645.9 541.4,1645.9 544.9,1646.2 548.4,1646.7 552.0,1646.5 555.5,1646.9 558.9,1647.4 562.4,1647.5 565.9,1647.4 569.3,1647.5 572.8,1648.0 576.2,1648.3 579.7,1648.0 583.2,1648.7 586.6,1648.8 590.1,1648.8 593.6,1648.9 597.0,1648.8 600.5,1649.0 603.9,1649.7 607.4,1649.5 611.0,1649.8 614.6,1649.6 618.3,1650.0 621.9,1650.0 625.5,1649.9 629.1,1649.9 632.8,1650.3 636.4,1650.0 640.0,1650.2 643.5,1650.4 647.1,1650.6 650.6,1650.5 654.1,1650.3 657.6,1650.8 661.2,1650.4 664.7,1650.3 668.2,1650.5 671.8,1650.6 675.3,1650.4 678.8,1650.6 682.4,1650.7 685.9,1650.9 689.4,1650.7 692.9,1650.8 696.5,1651.2 700.0,1651.1 703.5,1651.1 707.0,1651.1 710.5,1651.1 714.0,1650.8 717.5,1650.7 720.9,1650.7 724.4,1651.3 727.9,1651.1 731.4,1651.3 734.9,1650.7 738.4,1651.1 741.9,1651.0 745.4,1651.2 748.9,1650.9 752.4,1651.3 755.8,1650.8 759.3,1651.1 762.8,1651.2 766.3,1651.3 769.8,1651.2 773.3,1651.2 776.8,1651.2 780.3,1651.3 783.8,1651.0 787.3,1651.2 790.8,1651.3 794.2,1651.3 797.7,1651.0 801.2,1651.3 804.7,1651.3 808.2,1651.1 811.7,1651.2 815.2,1651.0 818.7,1651.2 822.2,1651.2 825.7,1650.9 829.1,1651.2 832.6,1651.4 836.1,1651.4 839.6,1651.3 843.1,1651.1 846.6,1651.3 850.1,1651.2 853.6,1651.1 857.1,1651.3 860.6,1650.9 864.1,1651.3 867.5,1650.9 871.0,1651.2 874.5,1651.1 878.0,1651.0 881.5,1651.3 885.0,1651.2 888.5,1651.2 892.0,1651.4 895.5,1651.0 899.0,1650.9 902.4,1651.1 905.9,1651.3 909.4,1651.0 912.9,1651.0 916.4,1651.4 919.9,1651.2" fill="none" stroke="#808080" stroke-width="4" stroke-linejoin="round" shape-rendering="crispEdges"/>
<line x1="167.1" y1="569.3" x2="179.4" y2="569.3" stroke="#000" stroke-width="1.7"/>
<line x1="167.1" y1="460.3" x2="179.4" y2="460.3" stroke="#000" stroke-width="1.7"/>
<line x1="167.1" y1="351.3" x2="179.4" y2="351.3" stroke="#000" stroke-width="1.7"/>
<line x1="167.1" y1="242.3" x2="179.4" y2="242.3" stroke="#000" stroke-width="1.7"/>
<line x1="167.1" y1="133.3" x2="179.4" y2="133.3" stroke="#000" stroke-width="1.7"/>
<line x1="172.9" y1="514.8" x2="179.4" y2="514.8" stroke="#000" stroke-width="1.7"/>
<line x1="172.9" y1="405.8" x2="179.4" y2="405.8" stroke="#000" stroke-width="1.7"/>
<line x1="172.9" y1="296.8" x2="179.4" y2="296.8" stroke="#000" stroke-width="1.7"/>
<line x1="172.9" y1="187.8" x2="179.4" y2="187.8" stroke="#000" stroke-width="1.7"/>
<line x1="172.9" y1="78.8" x2="179.4" y2="78.8" stroke="#000" stroke-width="1.7"/>
<line x1="165.6" y1="1112.3" x2="177.9" y2="1112.3" stroke="#000" stroke-width="1.7"/>
<line x1="165.6" y1="988.1" x2="177.9" y2="988.1" stroke="#000" stroke-width="1.7"/>
<line x1="165.6" y1="864.0" x2="177.9" y2="864.0" stroke="#000" stroke-width="1.7"/>
<line x1="165.6" y1="739.8" x2="177.9" y2="739.8" stroke="#000" stroke-width="1.7"/>
<line x1="165.6" y1="615.7" x2="177.9" y2="615.7" stroke="#000" stroke-width="1.7"/>
<line x1="171.4" y1="1050.2" x2="177.9" y2="1050.2" stroke="#000" stroke-width="1.7"/>
<line x1="171.4" y1="926.1" x2="177.9" y2="926.1" stroke="#000" stroke-width="1.7"/>
<line x1="171.4" y1="801.9" x2="177.9" y2="801.9" stroke="#000" stroke-width="1.7"/>
<line x1="171.4" y1="677.8" x2="177.9" y2="677.8" stroke="#000" stroke-width="1.7"/>
<line x1="165.5" y1="1653.0" x2="177.8" y2="1653.0" stroke="#000" stroke-width="1.7"/>
<line x1="165.5" y1="1541.9" x2="177.8" y2="1541.9" stroke="#000" stroke-width="1.7"/>
<line x1="165.5" y1="1430.8" x2="177.8" y2="1430.8" stroke="#000" stroke-width="1.7"/>
<line x1="165.5" y1="1319.7" x2="177.8" y2="1319.7" stroke="#000" stroke-width="1.7"/>
<line x1="165.5" y1="1208.6" x2="177.8" y2="1208.6" stroke="#000" stroke-width="1.7"/>
<line x1="171.3" y1="1597.5" x2="177.8" y2="1597.5" stroke="#000" stroke-width="1.7"/>
<line x1="171.3" y1="1486.3" x2="177.8" y2="1486.3" stroke="#000" stroke-width="1.7"/>
<line x1="171.3" y1="1375.2" x2="177.8" y2="1375.2" stroke="#000" stroke-width="1.7"/>
<line x1="171.3" y1="1264.2" x2="177.8" y2="1264.2" stroke="#000" stroke-width="1.7"/>
<line x1="171.3" y1="1153.0" x2="177.8" y2="1153.0" stroke="#000" stroke-width="1.7"/>
<line x1="301.5" y1="1653.0" x2="301.5" y2="1664.8" stroke="#000" stroke-width="1.7"/>
<line x1="548.8" y1="1653.0" x2="548.8" y2="1664.8" stroke="#000" stroke-width="1.7"/>
<line x1="796.2" y1="1653.0" x2="796.2" y2="1664.8" stroke="#000" stroke-width="1.7"/>
<line x1="425.2" y1="1653.0" x2="425.2" y2="1659.6" stroke="#000" stroke-width="1.7"/>
<line x1="672.5" y1="1653.0" x2="672.5" y2="1659.6" stroke="#000" stroke-width="1.7"/>
<text transform="translate(161.3,582.7) scale(1,1.03)" font-size="49" text-anchor="end" font-family="Liberation Sans, sans-serif" fill="#000">0</text>
<text transform="translate(161.3,473.7) scale(1,1.03)" font-size="49" text-anchor="end" font-family="Liberation Sans, sans-serif" fill="#000">10</text>
<text transform="translate(161.3,364.7) scale(1,1.03)" font-size="49" text-anchor="end" font-family="Liberation Sans, sans-serif" fill="#000">20</text>
<text transform="translate(161.3,255.7) scale(1,1.03)" font-size="49" text-anchor="end" font-family="Liberation Sans, sans-serif" fill="#000">30</text>
<text transform="translate(161.3,146.7) scale(1,1.03)" font-size="49" text-anchor="end" font-family="Liberation Sans, sans-serif" fill="#000">40</text>
<text transform="translate(161.3,37.7) scale(1,1.03)" font-size="49" text-anchor="end" font-family="Liberation Sans, sans-serif" fill="#000">50</text>
<text transform="translate(159.9,1126.1) scale(1,1.03)" font-size="49" text-anchor="end" font-family="Liberation Sans, sans-serif" fill="#000">0</text>
<text transform="translate(159.9,1002.3) scale(1,1.03)" font-size="49" text-anchor="end" font-family="Liberation Sans, sans-serif" fill="#000">50</text>
<text transform="translate(159.9,878.4) scale(1,1.03)" font-size="49" text-anchor="end" font-family="Liberation Sans, sans-serif" fill="#000">100</text>
<text transform="translate(159.9,754.6) scale(1,1.03)" font-size="49" text-anchor="end" font-family="Liberation Sans, sans-serif" fill="#000">150</text>
<text transform="translate(159.9,630.7) scale(1,1.03)" font-size="49" text-anchor="end" font-family="Liberation Sans, sans-serif" fill="#000">200</text>
<text transform="translate(160.2,1667.4) scale(1,1.03)" font-size="49" text-anchor="end" font-family="Liberation Sans, sans-serif" fill="#000">0</text>
<text transform="translate(160.2,1556.3) scale(1,1.03)" font-size="49" text-anchor="end" font-family="Liberation Sans, sans-serif" fill="#000">10</text>
<text transform="translate(160.2,1445.2) scale(1,1.03)" font-size="49" text-anchor="end" font-family="Liberation Sans, sans-serif" fill="#000">20</text>
<text transform="translate(160.2,1334.1) scale(1,1.03)" font-size="49" text-anchor="end" font-family="Liberation Sans, sans-serif" fill="#000">30</text>
<text transform="translate(160.2,1223.0) scale(1,1.03)" font-size="49" text-anchor="end" font-family="Liberation Sans, sans-serif" fill="#000">40</text>
<text transform="translate(300.6,1709.5) scale(1,1.03)" font-size="49" text-anchor="middle" font-family="Liberation Sans, sans-serif" fill="#000">400</text>
<text transform="translate(547.9,1709.5) scale(1,1.03)" font-size="49" text-anchor="middle" font-family="Liberation Sans, sans-serif" fill="#000">500</text>
<text transform="translate(795.3,1709.5) scale(1,1.03)" font-size="49" text-anchor="middle" font-family="Liberation Sans, sans-serif" fill="#000">600</text>
<text transform="translate(352.2,1788.0) scale(1,1.02)" font-size="51" textLength="392.3" lengthAdjust="spacing" font-family="Liberation Sans, sans-serif" fill="#000">Wavelength / nm</text>
<text transform="translate(60.2,472.1) rotate(-90) scale(1,1.04)" x="92.6 108.9 130.9 145.8 158.3 173.2 205.0 218.4 233.3 262.6" font-size="53.5" font-family="Liberation Sans, sans-serif" fill="#000">I<tspan font-size="35.5" dy="13.7">F</tspan><tspan dy="-13.7"> / a. u.</tspan></text>
<text transform="translate(42.3,1060.6) rotate(-90) scale(1,1.045)" x="92.6 107.4 126.3 141.0 154.9 169.6 200.5 216.0 230.7 259.5" font-size="53" font-family="Liberation Sans, sans-serif" fill="#000">I<tspan font-size="31.5" dy="18.4">F</tspan><tspan dy="-18.4"> / a. u.</tspan></text>
<text transform="translate(58.2,1601.7) rotate(-90) scale(1,1.045)" x="92.6 106.4 127.1 141.8 155.0 169.7 201.2 215.4 230.1 260.3" font-size="53" font-family="Liberation Sans, sans-serif" fill="#000">I<tspan font-size="31.5" dy="16.9">F</tspan><tspan dy="-16.9"> / a. u.</tspan></text>
<text transform="translate(191.8,62.8)" font-size="43.2" font-weight="bold" font-family="Liberation Sans, sans-serif" fill="#000">A</text>
<text transform="translate(191.8,620.3)" font-size="43.2" font-weight="bold" font-family="Liberation Sans, sans-serif" fill="#000">B</text>
<text transform="translate(191.6,1160.0)" font-size="43.2" font-weight="bold" font-family="Liberation Sans, sans-serif" fill="#000">C</text>
<line x1="565.5" y1="22.2" x2="565.5" y2="284.0" stroke="#000" stroke-width="1.8"/>
<line x1="559.5" y1="280.4" x2="917.4" y2="280.4" stroke="#000" stroke-width="1.8"/>
<line x1="917.4" y1="280.4" x2="917.4" y2="283.9" stroke="#000" stroke-width="1.6"/>
<text transform="translate(556.4,286.3)" font-size="23" text-anchor="end" font-family="Liberation Sans, sans-serif" fill="#1c1c1c">0.0</text>
<line x1="562.5" y1="257.0" x2="565.5" y2="257.0" stroke="#000" stroke-width="1.6"/>
<line x1="559.5" y1="233.7" x2="565.5" y2="233.7" stroke="#000" stroke-width="1.8"/>
<text transform="translate(556.4,239.6)" font-size="23" text-anchor="end" font-family="Liberation Sans, sans-serif" fill="#1c1c1c">0.2</text>
<line x1="562.5" y1="210.3" x2="565.5" y2="210.3" stroke="#000" stroke-width="1.6"/>
<line x1="559.5" y1="187.0" x2="565.5" y2="187.0" stroke="#000" stroke-width="1.8"/>
<text transform="translate(556.4,192.9)" font-size="23" text-anchor="end" font-family="Liberation Sans, sans-serif" fill="#1c1c1c">0.4</text>
<line x1="562.5" y1="163.6" x2="565.5" y2="163.6" stroke="#000" stroke-width="1.6"/>
<line x1="559.5" y1="140.2" x2="565.5" y2="140.2" stroke="#000" stroke-width="1.8"/>
<text transform="translate(556.4,146.1)" font-size="23" text-anchor="end" font-family="Liberation Sans, sans-serif" fill="#1c1c1c">0.6</text>
<line x1="562.5" y1="116.9" x2="565.5" y2="116.9" stroke="#000" stroke-width="1.6"/>
<line x1="559.5" y1="93.5" x2="565.5" y2="93.5" stroke="#000" stroke-width="1.8"/>
<text transform="translate(556.4,99.4)" font-size="23" text-anchor="end" font-family="Liberation Sans, sans-serif" fill="#1c1c1c">0.8</text>
<line x1="562.5" y1="70.2" x2="565.5" y2="70.2" stroke="#000" stroke-width="1.6"/>
<line x1="559.5" y1="46.8" x2="565.5" y2="46.8" stroke="#000" stroke-width="1.8"/>
<text transform="translate(556.4,52.7)" font-size="23" text-anchor="end" font-family="Liberation Sans, sans-serif" fill="#1c1c1c">1.0</text>
<line x1="624.1" y1="280.4" x2="624.1" y2="286.4" stroke="#000" stroke-width="1.8"/>
<text transform="translate(623.8,308.0)" font-size="23" text-anchor="middle" font-family="Liberation Sans, sans-serif" fill="#1c1c1c">400</text>
<line x1="741.2" y1="280.4" x2="741.2" y2="286.4" stroke="#000" stroke-width="1.8"/>
<text transform="translate(740.9,308.0)" font-size="23" text-anchor="middle" font-family="Liberation Sans, sans-serif" fill="#1c1c1c">500</text>
<line x1="858.4" y1="280.4" x2="858.4" y2="286.4" stroke="#000" stroke-width="1.8"/>
<text transform="translate(858.1,308.0)" font-size="23" text-anchor="middle" font-family="Liberation Sans, sans-serif" fill="#1c1c1c">600</text>
<line x1="682.6" y1="280.4" x2="682.6" y2="283.9" stroke="#000" stroke-width="1.6"/>
<line x1="799.8" y1="280.4" x2="799.8" y2="283.9" stroke="#000" stroke-width="1.6"/>
<text transform="translate(647.0,345.1)" font-size="25" textLength="189.6" lengthAdjust="spacing" font-family="Liberation Sans, sans-serif" fill="#1c1c1c">Wavelength / nm</text>
<text transform="translate(499.0,237.2) rotate(-90) scale(1,1.14)" x="0.0 18.2 32.3 40.7 61.7 75.7 81.3 86.9 99.5 113.6 127.4 134.2 142.1" font-size="24.5" font-family="Liberation Sans, sans-serif" fill="#1c1c1c">Normalized I<tspan font-size="13.8" dy="7.2">F</tspan></text>
<line x1="568.8" y1="565.3" x2="568.8" y2="826.5" stroke="#000" stroke-width="1.8"/>
<line x1="563.3" y1="822.9" x2="917.4" y2="822.9" stroke="#000" stroke-width="1.8"/>
<line x1="917.4" y1="822.9" x2="917.4" y2="826.4" stroke="#000" stroke-width="1.6"/>
<text transform="translate(560.4,828.5) scale(1,0.96)" font-size="23" text-anchor="end" font-family="Liberation Sans, sans-serif" fill="#1c1c1c">0.0</text>
<line x1="565.8" y1="799.6" x2="568.8" y2="799.6" stroke="#000" stroke-width="1.6"/>
<line x1="563.3" y1="776.3" x2="568.8" y2="776.3" stroke="#000" stroke-width="1.8"/>
<text transform="translate(560.4,781.9) scale(1,0.96)" font-size="23" text-anchor="end" font-family="Liberation Sans, sans-serif" fill="#1c1c1c">0.2</text>
<line x1="565.8" y1="753.0" x2="568.8" y2="753.0" stroke="#000" stroke-width="1.6"/>
<line x1="563.3" y1="729.7" x2="568.8" y2="729.7" stroke="#000" stroke-width="1.8"/>
<text transform="translate(560.4,735.3) scale(1,0.96)" font-size="23" text-anchor="end" font-family="Liberation Sans, sans-serif" fill="#1c1c1c">0.4</text>
<line x1="565.8" y1="706.4" x2="568.8" y2="706.4" stroke="#000" stroke-width="1.6"/>
<line x1="563.3" y1="683.0" x2="568.8" y2="683.0" stroke="#000" stroke-width="1.8"/>
<text transform="translate(560.4,688.6) scale(1,0.96)" font-size="23" text-anchor="end" font-family="Liberation Sans, sans-serif" fill="#1c1c1c">0.6</text>
<line x1="565.8" y1="659.7" x2="568.8" y2="659.7" stroke="#000" stroke-width="1.6"/>
<line x1="563.3" y1="636.4" x2="568.8" y2="636.4" stroke="#000" stroke-width="1.8"/>
<text transform="translate(560.4,642.0) scale(1,0.96)" font-size="23" text-anchor="end" font-family="Liberation Sans, sans-serif" fill="#1c1c1c">0.8</text>
<line x1="565.8" y1="613.1" x2="568.8" y2="613.1" stroke="#000" stroke-width="1.6"/>
<line x1="563.3" y1="589.8" x2="568.8" y2="589.8" stroke="#000" stroke-width="1.8"/>
<text transform="translate(560.4,595.4) scale(1,0.96)" font-size="23" text-anchor="end" font-family="Liberation Sans, sans-serif" fill="#1c1c1c">1.0</text>
<line x1="627.1" y1="822.9" x2="627.1" y2="828.9" stroke="#000" stroke-width="1.8"/>
<text transform="translate(626.9,851.0) scale(1,0.96)" font-size="23" text-anchor="middle" font-family="Liberation Sans, sans-serif" fill="#1c1c1c">400</text>
<line x1="743.8" y1="822.9" x2="743.8" y2="828.9" stroke="#000" stroke-width="1.8"/>
<text transform="translate(743.5,851.0) scale(1,0.96)" font-size="23" text-anchor="middle" font-family="Liberation Sans, sans-serif" fill="#1c1c1c">500</text>
<line x1="860.5" y1="822.9" x2="860.5" y2="828.9" stroke="#000" stroke-width="1.8"/>
<text transform="translate(860.2,851.0) scale(1,0.96)" font-size="23" text-anchor="middle" font-family="Liberation Sans, sans-serif" fill="#1c1c1c">600</text>
<line x1="685.5" y1="822.9" x2="685.5" y2="826.4" stroke="#000" stroke-width="1.6"/>
<line x1="802.2" y1="822.9" x2="802.2" y2="826.4" stroke="#000" stroke-width="1.6"/>
<text transform="translate(650.4,889.2)" font-size="25" textLength="189.8" lengthAdjust="spacing" font-family="Liberation Sans, sans-serif" fill="#1c1c1c">Wavelength / nm</text>
<text transform="translate(507.0,788.8) rotate(-90) scale(1,1.14)" x="0.0 18.5 32.7 41.2 62.5 76.7 82.4 88.0 100.8 115.0 127.5 134.3 142.4" font-size="24.5" font-family="Liberation Sans, sans-serif" fill="#1c1c1c">Normalized I<tspan font-size="13.8" dy="8.6">F</tspan></text>
<line x1="575.2" y1="1105.8" x2="575.2" y2="1362.8" stroke="#000" stroke-width="1.8"/>
<line x1="569.9" y1="1359.2" x2="918.8" y2="1359.2" stroke="#000" stroke-width="1.8"/>
<line x1="918.8" y1="1359.2" x2="918.8" y2="1362.7" stroke="#000" stroke-width="1.6"/>
<text transform="translate(566.5,1364.8) scale(1,0.93)" font-size="23" text-anchor="end" font-family="Liberation Sans, sans-serif" fill="#1c1c1c">0.0</text>
<line x1="572.2" y1="1336.2" x2="575.2" y2="1336.2" stroke="#000" stroke-width="1.6"/>
<line x1="569.9" y1="1313.3" x2="575.2" y2="1313.3" stroke="#000" stroke-width="1.8"/>
<text transform="translate(566.5,1318.9) scale(1,0.93)" font-size="23" text-anchor="end" font-family="Liberation Sans, sans-serif" fill="#1c1c1c">0.2</text>
<line x1="572.2" y1="1290.4" x2="575.2" y2="1290.4" stroke="#000" stroke-width="1.6"/>
<line x1="569.9" y1="1267.4" x2="575.2" y2="1267.4" stroke="#000" stroke-width="1.8"/>
<text transform="translate(566.5,1273.0) scale(1,0.93)" font-size="23" text-anchor="end" font-family="Liberation Sans, sans-serif" fill="#1c1c1c">0.4</text>
<line x1="572.2" y1="1244.5" x2="575.2" y2="1244.5" stroke="#000" stroke-width="1.6"/>
<line x1="569.9" y1="1221.5" x2="575.2" y2="1221.5" stroke="#000" stroke-width="1.8"/>
<text transform="translate(566.5,1227.1) scale(1,0.93)" font-size="23" text-anchor="end" font-family="Liberation Sans, sans-serif" fill="#1c1c1c">0.6</text>
<line x1="572.2" y1="1198.6" x2="575.2" y2="1198.6" stroke="#000" stroke-width="1.6"/>
<line x1="569.9" y1="1175.6" x2="575.2" y2="1175.6" stroke="#000" stroke-width="1.8"/>
<text transform="translate(566.5,1181.2) scale(1,0.93)" font-size="23" text-anchor="end" font-family="Liberation Sans, sans-serif" fill="#1c1c1c">0.8</text>
<line x1="572.2" y1="1152.7" x2="575.2" y2="1152.7" stroke="#000" stroke-width="1.6"/>
<line x1="569.9" y1="1129.7" x2="575.2" y2="1129.7" stroke="#000" stroke-width="1.8"/>
<text transform="translate(566.5,1135.3) scale(1,0.93)" font-size="23" text-anchor="end" font-family="Liberation Sans, sans-serif" fill="#1c1c1c">1.0</text>
<line x1="632.8" y1="1359.2" x2="632.8" y2="1365.2" stroke="#000" stroke-width="1.8"/>
<text transform="translate(632.5,1386.2) scale(1,0.93)" font-size="23" text-anchor="middle" font-family="Liberation Sans, sans-serif" fill="#1c1c1c">400</text>
<line x1="748.0" y1="1359.2" x2="748.0" y2="1365.2" stroke="#000" stroke-width="1.8"/>
<text transform="translate(747.7,1386.2) scale(1,0.93)" font-size="23" text-anchor="middle" font-family="Liberation Sans, sans-serif" fill="#1c1c1c">500</text>
<line x1="863.2" y1="1359.2" x2="863.2" y2="1365.2" stroke="#000" stroke-width="1.8"/>
<text transform="translate(862.9,1386.2) scale(1,0.93)" font-size="23" text-anchor="middle" font-family="Liberation Sans, sans-serif" fill="#1c1c1c">600</text>
<line x1="690.4" y1="1359.2" x2="690.4" y2="1362.7" stroke="#000" stroke-width="1.6"/>
<line x1="805.6" y1="1359.2" x2="805.6" y2="1362.7" stroke="#000" stroke-width="1.6"/>
<text transform="translate(655.2,1422.4) scale(1,0.95)" font-size="24.5" textLength="185.8" lengthAdjust="spacing" font-family="Liberation Sans, sans-serif" fill="#1c1c1c">Wavelength / nm</text>
<text transform="translate(518.3,1323.7) rotate(-90) scale(1,1.08)" x="0.0 17.7 31.3 39.5 59.9 73.6 79.0 84.5 96.7 110.4 124.0 130.6 138.6" font-size="23.8" font-family="Liberation Sans, sans-serif" fill="#1c1c1c">Normalized I<tspan font-size="13.8" dy="7.4">F</tspan></text>
</svg>
</body></html>
